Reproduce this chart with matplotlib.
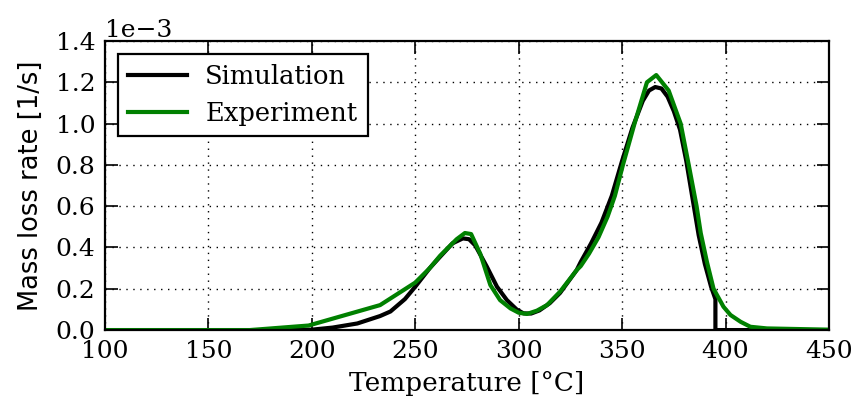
import numpy as np
import matplotlib
matplotlib.use("Agg")
import matplotlib.pyplot as plt

# Simulation curve (temperature in degC, mass loss rate in 1e-3 1/s)
sim_temp = [100, 190, 200, 210, 222, 233, 238, 245, 250, 257, 262, 268, 273, 276,
            279, 284.6, 289.5, 294.3, 299, 302.3, 306, 310, 315, 320, 328, 330,
            335, 340, 345, 350, 355, 360, 363, 366, 369, 372, 375, 378, 381,
            384, 387, 390, 393, 395.1, 395.1, 450]
sim_rate = [0, 0, 0.002, 0.012, 0.032, 0.068, 0.09, 0.15, 0.21, 0.30, 0.355, 0.42,
            0.444, 0.44, 0.41, 0.307, 0.21, 0.145, 0.10, 0.081, 0.08, 0.095, 0.13,
            0.18, 0.29, 0.33, 0.42, 0.52, 0.65, 0.82, 0.98, 1.11, 1.16, 1.177,
            1.17, 1.13, 1.06, 0.97, 0.82, 0.64, 0.46, 0.32, 0.21, 0.15, 0.0, 0.0]

# Experiment curve
exp_temp = [100, 170, 198.4, 233, 250, 257, 262, 270, 274, 277, 281.4, 286.3, 291,
            296, 300, 304, 308.8, 313.7, 320, 328, 330, 334, 338.6, 343, 346.5,
            350.4, 356, 362, 366.5, 372.5, 378.3, 382.2, 386, 388, 391, 394.2,
            399, 402.4, 407.3, 412, 420, 450]
exp_rate = [0, 0, 0.022, 0.121, 0.23, 0.30, 0.36, 0.44, 0.47, 0.465, 0.37, 0.218,
            0.145, 0.105, 0.084, 0.078, 0.094, 0.121, 0.186, 0.29, 0.31, 0.37,
            0.45, 0.55, 0.65, 0.8, 1.0, 1.2, 1.235, 1.16, 1.0, 0.8, 0.6, 0.47,
            0.33, 0.2, 0.113, 0.073, 0.04, 0.016, 0.008, 0.002]

x_ticks = [100, 150, 200, 250, 300, 350, 400, 450]
y_ticks = [0.0, 0.2, 0.4, 0.6, 0.8, 1.0, 1.2, 1.4]

plt.rcParams['font.family'] = 'DejaVu Serif'
plt.rcParams['mathtext.fontset'] = 'dejavuserif'

fig = plt.figure(figsize=(8.57, 4.05), dpi=100)
ax = fig.add_axes([0.1225, 0.185, 0.8448, 0.7138])

ax.plot(sim_temp, np.array(sim_rate) * 1e-3, color='black', lw=3, label='Simulation')
ax.plot(exp_temp, np.array(exp_rate) * 1e-3, color='green', lw=3, label='Experiment')

ax.set_xlim(100, 450)
ax.set_ylim(0, 1.4e-3)
ax.set_xticks(x_ticks)
ax.set_yticks(np.array(y_ticks) * 1e-3)
ax.ticklabel_format(axis='y', style='sci', scilimits=(0, 0))
ax.yaxis.get_offset_text().set_fontsize(18)

ax.grid(True, color='black', linestyle=(0, (1, 4)), linewidth=1.0)
ax.tick_params(direction='in', length=9, width=1.2, top=True, right=True,
               labelsize=18, pad=7)
for sp in ax.spines.values():
    sp.set_linewidth(1.6)

ax.set_xlabel('Temperature [°C]', fontsize=19, labelpad=6)
ax.set_ylabel('Mass loss rate [1/s]', fontsize=18.5, family='DejaVu Sans', labelpad=8)

leg = ax.legend(loc='upper left', fontsize=18.5, fancybox=False, framealpha=1,
                edgecolor='black', handlelength=2.3, borderaxespad=0.5,
                labelspacing=0.45, handletextpad=0.7)
leg.get_frame().set_linewidth(1.6)

fig.savefig('out.png', dpi=100)
